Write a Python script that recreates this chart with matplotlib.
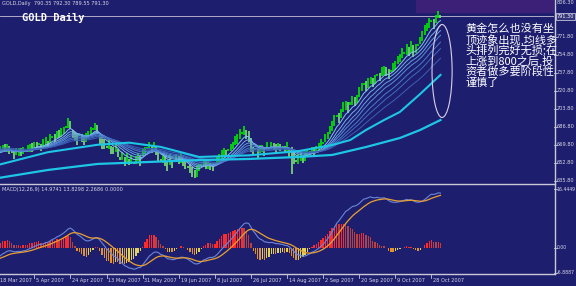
import numpy as np
import pandas as pd
import matplotlib
matplotlib.use("Agg")
import matplotlib.pyplot as plt
from matplotlib.patches import Ellipse, Rectangle
from matplotlib.lines import Line2D
from matplotlib.transforms import blended_transform_factory as btf, offset_copy

W, H = 576, 286
BG = '#1e1e6e'
FG = '#d8d8e8'

# ---------------- data ----------------
# closes before the first visible bar, estimated from where the MAs / MACD start
pre_closes = [676, 675, 677, 674, 673, 674, 671, 672, 670, 669,
              670, 668, 667, 668, 666, 665, 666, 664, 663, 664,
              662, 661, 662, 660, 661, 659, 660, 662, 661, 662]
closes = [
    664, 665, 667, 666, 668, 665,
    663, 661, 663, 664, 662, 665,
    664, 666, 668, 667, 670, 669,
    671, 668, 670, 673, 671, 675,
    677, 676, 680, 679, 682, 684,
    687, 690, 688, 681, 678, 676,
    679, 677, 675, 676, 680, 683,
    685, 687, 684, 676, 673, 671,
    668, 670, 666, 664, 667, 663,
    657, 659, 655, 657, 654, 656,
    653, 656, 658, 655, 662, 665,
    667, 669, 666, 668, 664, 660,
    656, 658, 654, 651, 655, 653,
    655, 657, 656, 658, 654, 652,
    649, 647, 645, 643, 646, 648,
    651, 653, 650, 652, 650, 648,
    651, 655, 658, 660, 663, 662,
    665, 667, 670, 673, 676, 679,
    681, 683, 680, 677, 667, 664,
    666, 662, 665, 667, 664, 668,
    667, 670, 668, 666, 669, 667,
    668, 665, 668, 663, 660, 657,
    655, 657, 659, 656, 660, 662,
    663, 665, 664, 666, 668, 670,
    672, 676, 679, 683, 688, 692,
    697, 695, 700, 704, 707, 705,
    709, 712, 710, 714, 719, 724,
    727, 725, 729, 731, 728, 732,
    736, 734, 738, 741, 739, 737,
    740, 743, 746, 749, 752, 755,
    757, 760, 758, 762, 759, 761,
    764, 768, 772, 777, 781, 785,
    787, 784, 789, 793, 791.3,
]
up_wick = [
    1, 4, 3, 5, 3, 4,  1, 3, 4, 3, 5, 3,  1, 4, 3, 5, 3, 4,  1, 3, 5, 4, 3, 5,
    1, 4, 3, 5, 4, 3,  1, 5, 4, 3, 4, 5,  1, 3, 4, 5, 3, 4,  1, 4, 5, 3, 6, 4,
    1, 5, 3, 4, 5, 3,  1, 4, 3, 5, 3, 4,  1, 3, 4, 5, 4, 3,  1, 4, 3, 5, 4, 5,
    1, 3, 5, 4, 6, 3,  1, 4, 3, 5, 3, 4,  1, 5, 4, 3, 5, 4,  1, 3, 5, 4, 3, 4,
    1, 4, 3, 5, 4, 3,  1, 4, 3, 5, 4, 6,  1, 5, 4, 6, 9, 4,  1, 4, 5, 3, 4, 5,
    1, 3, 4, 5, 3, 4,  1, 4, 5, 3, 8, 6,  1, 4, 5, 3, 4, 3,  1, 3, 4, 3, 4, 5,
    1, 4, 3, 5, 4, 6,  1, 5, 4, 6, 4, 5,  1, 4, 5, 3, 6, 4,  1, 5, 4, 3, 5, 4,
    1, 4, 5, 3, 4, 5,  1, 4, 3, 5, 4, 6,  1, 5, 4, 6, 5, 4,  1, 4, 5, 6, 4, 5,
    1, 5, 4, 3, 1.0,
]
dn_wick = [
    1, 3, 4, 3, 5, 4,  1, 4, 3, 5, 3, 4,  1, 3, 5, 4, 3, 4,  1, 4, 3, 5, 4, 3,
    1, 3, 4, 3, 5, 4,  1, 4, 3, 5, 4, 6,  1, 4, 5, 3, 4, 3,  1, 3, 4, 5, 7, 5,
    1, 4, 5, 3, 4, 5,  1, 3, 5, 4, 3, 4,  1, 4, 3, 5, 3, 4,  1, 3, 4, 5, 4, 5,
    1, 5, 4, 6, 4, 5,  1, 3, 4, 5, 4, 5,  1, 4, 5, 4, 6, 3,  1, 4, 3, 5, 4, 3,
    1, 3, 4, 3, 5, 4,  1, 3, 4, 3, 5, 4,  1, 4, 5, 4, 4, 5,  1, 5, 3, 4, 5, 3,
    1, 4, 3, 5, 4, 3,  1, 3, 4, 5, 18, 5, 1, 5, 4, 3, 5, 4,  1, 3, 4, 3, 4, 3,
    1, 3, 4, 3, 5, 4,  1, 4, 5, 3, 4, 5,  1, 4, 3, 5, 4, 3,  1, 4, 5, 4, 3, 5,
    1, 4, 3, 5, 4, 5,  1, 4, 5, 3, 4, 3,  1, 5, 4, 5, 6, 4,  1, 3, 4, 3, 4, 5,
    1, 5, 4, 3, 1.75,
]

# slow moving averages (bar index, price)
ma_slow_idx = [0, 22, 44, 66, 89, 111, 133, 148, 163, 178, 187, 196]
ma_slow_val = [638.6, 646.2, 651.9, 653.7, 655.6, 656.6, 658.5, 660.4, 667.9, 676.4, 684.0, 693.4]
ma_mid_idx = [0, 22, 44, 58, 72, 89, 111, 133, 148, 156, 163, 171, 178, 187, 196]
ma_mid_val = [651, 663, 670, 672, 668, 658.5, 660, 664, 669.8, 674.5, 684, 693.4, 701, 718, 736]
ribbon_periods = [6, 10, 14, 18, 24, 30, 40]

date_labels = ['18 Mar 2007', '5 Apr 2007', '24 Apr 2007', '13 May 2007', '31 May 2007',
               '19 Jun 2007', '8 Jul 2007', '26 Jul 2007', '14 Aug 2007', '2 Sep 2007',
               '20 Sep 2007', '9 Oct 2007', '28 Oct 2007']
date_bars = [0, 16, 32, 48, 64, 80, 96, 112, 128, 144, 160, 176, 192]
price_ticks = [635.80, 652.80, 669.80, 686.80, 703.80, 720.80, 737.80, 754.80, 771.80]
price_top = 806.30
last_price = 791.30
macd_ticks = [16.4449, 0.00, -6.8887]
macd_tick_text = ['16.4449', '0.00', '-6.8887']

header = 'GOLD,Daily  790.35 792.30 789.55 791.30'
macd_header = 'MACD(12,26,9) 14.9741 13.8298 2.2686 0.0000'
note_lines = ['黄金怎么也没有坐', '顶迹象出现,均线多', '头排列完好无损;在',
              '上涨到800之后,投', '资者做多要阶段性', '谨慎了']

# ---------------- styles ----------------
ribbon_colors = ['#86c2f4', '#74b0ec', '#64a0e4', '#568ed8', '#4a7ccc', '#406cc0', '#3a60b6']
CYAN = '#1ec6e6'

# ---------------- figure ----------------
fig = plt.figure(figsize=(W / 100, H / 100), dpi=100, facecolor=BG)

def fx(px):
    return px / W

def fy(py):
    return 1 - py / H

XL, XR = 0.8, 246.3
ax = fig.add_axes([0, fy(183), fx(554), 183 / H])
ax2 = fig.add_axes([0, fy(274), fx(554), 89 / H])
for a in (ax, ax2):
    a.set_facecolor(BG)
    a.set_xlim(XL, XR)
    for s in a.spines.values():
        s.set_visible(False)
    a.set_xticks([])
    a.set_yticks([])
ax.set_ylim(633.91, 806.74)
ax2.set_ylim(-7.25, 17.56)

c = np.array(closes, dtype=float)
n = len(c)
npre = len(pre_closes)
idx = np.arange(n)
hi = c + np.array(up_wick, dtype=float)
lo = c - np.array(dn_wick, dtype=float)
prev = np.r_[pre_closes[-1], c[:-1]]
cols = np.where(c >= prev, '#00ea00', '#7ee07e')

# full series (history + visible) for the indicators
s_all = pd.Series(np.r_[np.array(pre_closes, dtype=float), c])

# purple band at top right
ax.add_patch(Rectangle((185.1, 794.5), 70, 13, color='#3c2078', zorder=0.5, lw=0))

# bid line
ax.axhline(last_price, color='#c8c0d8', lw=0.6, zorder=1.5)

# candles (high-low bars)
ax.vlines(idx, lo, hi, colors=cols, lw=1.2, zorder=2)

# ribbon
for p, col in zip(ribbon_periods, ribbon_colors):
    ema = s_all.ewm(span=p, adjust=False).mean().values[npre:]
    ax.plot(idx, ema, color=col, lw=0.7, zorder=3)
ax.plot(ma_mid_idx, ma_mid_val, color=CYAN, lw=1.5, zorder=3.5)
ax.plot(ma_slow_idx, ma_slow_val, color=CYAN, lw=1.6, zorder=3.5)

# ellipse annotation
ax.add_patch(Ellipse((196.7, 739.7), 8.9, 87.8, fill=False, ec='#d8d0ec', lw=0.8, zorder=5))

# MACD
ema12 = s_all.ewm(span=12, adjust=False).mean()
ema26 = s_all.ewm(span=26, adjust=False).mean()
macd_all = ema12 - ema26
sig_all = macd_all.ewm(span=9, adjust=False).mean()
macd = macd_all.values[npre:]
sig = sig_all.values[npre:]
hv = 2 * (macd - sig)
hprev = np.r_[2 * (macd_all.values[npre - 1] - sig_all.values[npre - 1]), hv[:-1]]
hcols = np.where(hv >= 0,
                 np.where(hv >= hprev, '#ff2a2a', '#b84040'),
                 np.where(hv < hprev, '#e39030', '#e0d060'))
ax2.bar(idx, hv, width=0.6, color=hcols, zorder=2)
ax2.plot(idx, macd, color='#6a86d8', lw=0.8, zorder=3)
ax2.plot(idx, sig, color='#eaa030', lw=0.9, zorder=3.5)

# frame lines
LC = '#c8c8d8'
fig.add_artist(Line2D([0, fx(555)], [fy(183.5)] * 2, color=LC, lw=1.0))
fig.add_artist(Line2D([0, fx(555)], [fy(274)] * 2, color=LC, lw=1.0))
fig.add_artist(Line2D([fx(554.5)] * 2, [fy(0), fy(274)], color=LC, lw=1.0))

# price axis labels
LX = fx(556.8)
tp = btf(fig.transFigure, ax.transData)
for p in price_ticks:
    ax.plot([fx(554), fx(556.5)], [p, p], color=LC, lw=0.6, transform=tp, clip_on=False)
    ax.text(LX, p, f'{p:.2f}', transform=tp, fontsize=3.6, color=FG,
            va='center', ha='left', clip_on=False)
ax.text(LX, 806.74, f'{price_top:.2f}', transform=tp, fontsize=3.6, color=FG,
        va='top', ha='left', clip_on=False)
ax.text(LX, last_price, f'{last_price:.2f}', transform=tp, fontsize=3.6, color='white',
        va='center', ha='left', clip_on=False,
        bbox=dict(boxstyle='square,pad=0.2', fc='#34347a', ec='#e0e0f0', lw=0.5))

tm = btf(fig.transFigure, ax2.transData)
for v, t in zip(macd_ticks, macd_tick_text):
    ax2.plot([fx(554), fx(556.5)], [v, v], color=LC, lw=0.6, transform=tm, clip_on=False)
    ax2.text(LX, v, t, transform=tm, fontsize=3.3, color=FG,
             va='center', ha='left', clip_on=False)

# date axis
td = btf(ax2.transData, fig.transFigure)
tdo = offset_copy(td, fig=fig, x=1.8, y=0, units='dots')
for b, lab in zip(date_bars, date_labels):
    ax2.plot([b, b], [fy(274), fy(278)], color=LC, lw=0.6, transform=td, clip_on=False)
    ax2.text(b, fy(280.5), lab, transform=tdo, fontsize=3.6, color=FG,
             va='center', ha='left', clip_on=False)

# headers and titles
fig.text(fx(2), fy(4), header, fontsize=3.6, color=FG, va='center', ha='left')
fig.text(fx(2), fy(190), macd_header, fontsize=3.6, color=FG, va='center', ha='left')
fig.text(fx(22), fy(18), 'GOLD Daily', family='DejaVu Sans Mono', weight='bold',
         fontsize=7.5, color='white', va='center', ha='left')

for k, line in enumerate(note_lines):
    fig.text(fx(465), fy(29 + 10.7 * k), line, family=['Noto Sans CJK SC', 'DejaVu Sans'],
             fontsize=8, color='white', va='center', ha='left')

fig.savefig('out.png', dpi=100, facecolor=BG)
